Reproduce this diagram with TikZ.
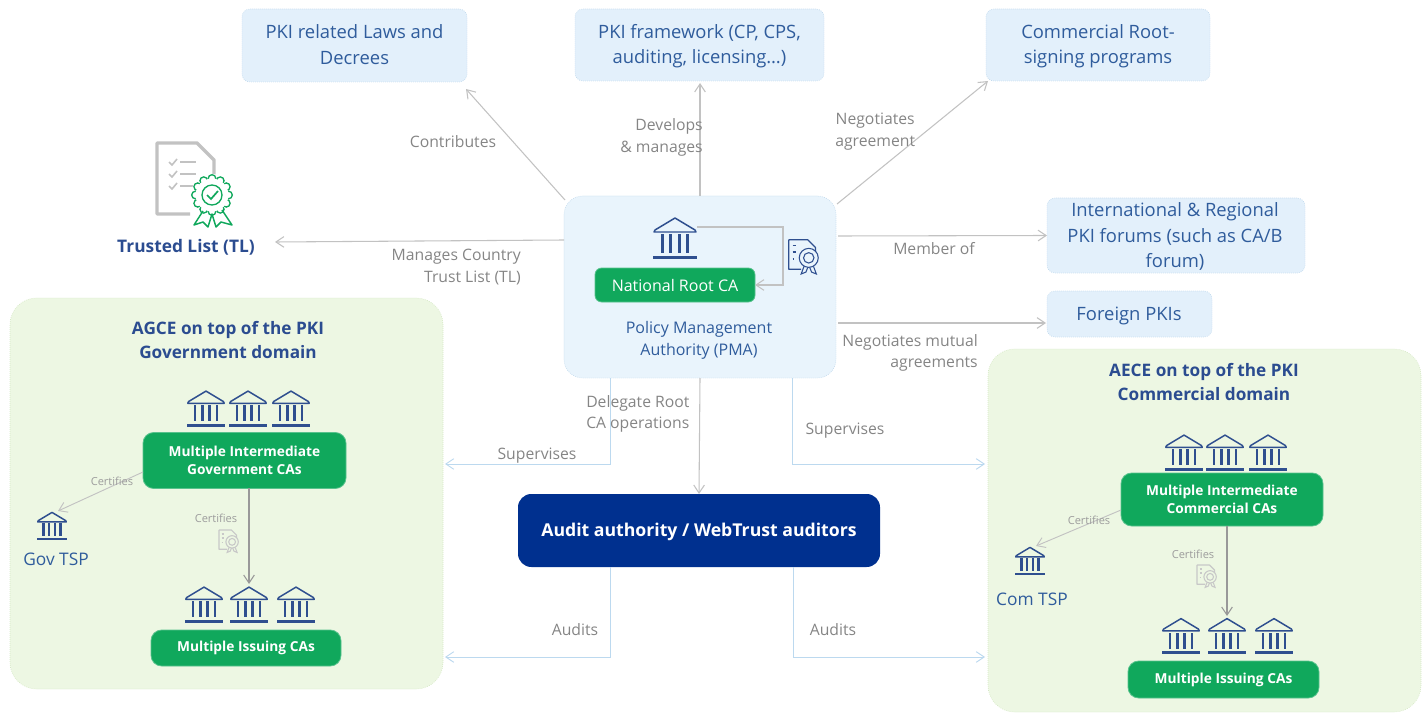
\documentclass[tikz,border=0pt]{standalone}
\usepackage{fontspec}
\setmainfont{Open Sans}
\usetikzlibrary{arrows.meta}
\definecolor{boxfill}{HTML}{E3F0FB}
\definecolor{pmafill}{HTML}{E9F4FC}
\definecolor{panelfill}{HTML}{EDF7E3}
\definecolor{panelline}{HTML}{D5E8C5}
\definecolor{boxline}{HTML}{BFD8EC}
\definecolor{cagreen}{HTML}{10A85C}
\definecolor{navy}{HTML}{00308F}
\definecolor{inktext}{HTML}{2F5C9C}
\definecolor{headtext}{HTML}{2B4C90}
\definecolor{iconblue}{HTML}{2F4F8F}
\definecolor{greyline}{HTML}{C2C2C2}
\definecolor{blueline}{HTML}{BCD9EF}
\definecolor{labelgrey}{HTML}{858585}
\newcommand{\fs}[2]{\fontsize{#1}{#2}\selectfont}
\tikzset{
  x=0.75pt,y=-0.75pt,
  sz/.style 2 args={minimum width=#1*0.75pt,minimum height=#2*0.75pt,inner sep=0pt,outer sep=0pt},
  lightbox/.style={draw=boxline,densely dotted,line width=0.5pt,fill=boxfill,rounded corners=6pt},
  boxtxt/.style={text=inktext,align=center,font=\fs{13.8}{19},inner sep=0pt},
  panel/.style={draw=panelline,densely dotted,line width=0.5pt,fill=panelfill,rounded corners=20pt},
  greenbox/.style={fill=cagreen,draw=cagreen!70!white,line width=0.6pt,rounded corners=8pt,text=white,align=center,font=\bfseries\fs{10.3}{13.2},inner sep=0pt},
  lab/.style={text=labelgrey,align=center,font=\fs{11.8}{16.2},inner sep=0pt},
  smalllab/.style={text=labelgrey!80!white,font=\fs{8.3}{11},inner sep=0pt},
  head/.style={text=headtext,align=center,font=\bfseries\fs{12.9}{18.6},inner sep=0pt},
  plaintxt/.style={text=inktext,align=center,font=\fs{12}{16},inner sep=0pt},
  grayarrow/.style={draw=greyline,line width=0.8pt,-{Straight Barb[length=6pt,width=8pt]}},
  blueone/.style={draw=blueline,line width=0.7pt,-{Straight Barb[length=6pt,width=8pt]}},
  bank/.pic={
    \draw[iconblue,line width=1.1pt,line join=round,fill=none] (-20,-8) -- (0,-20) -- (20,-8) -- (21,-6) -- (-21,-6) -- cycle;
    \foreach \i in {-12.5,-4.2,4.2,12.5}{\fill[iconblue] (\i-1.5,-4) rectangle (\i+1.5,14.5);}
    \fill[iconblue] (-22,17.5) rectangle (22,21);
  },
  certicon/.pic={
    \draw[pic actions,line width=0.9pt,line join=round] (-3,15) -- (-16,15) -- (-16,-16) -- (4,-16) -- (12,-8) -- (12,-3);
    \foreach \a/\b in {-10/-8,-3/-8,4/-11}{\draw[pic actions,line width=1.1pt] (-12,\a) -- (\b,\a);}
    \draw[pic actions,line width=0.8pt] (5,3) circle (10);
    \draw[pic actions,line width=0.8pt] (5,3) circle (5.5);
    \draw[pic actions,line width=0.8pt] (0,12) -- (-3,20) -- (2,18) -- (4,13) (10,12) -- (13,20) -- (8,18) -- (6,13);
  }
}
\begin{document}
\begin{tikzpicture}
\useasboundingbox (0,0) rectangle (1428,713);
% panels
\node[panel,sz={433}{391}] (agce) at (226.5,493.5) {};
\node[panel,sz={433}{363}] (aece) at (1204.5,530.5) {};
% top boxes
\node[lightbox,sz={225}{73}] (laws) at (354.5,45.5) {};
\node[boxtxt] (lawst) at (354.5,44.5) {PKI related Laws and\\Decrees};
\node[lightbox,sz={249}{72}] (frame) at (699.5,45) {};
\node[boxtxt] (framet) at (699.5,46) {PKI framework (CP, CPS,\\auditing, licensing…)};
\node[lightbox,sz={224}{72}] (root) at (1098,45) {};
\node[boxtxt] (roott) at (1098,46) {Commercial Root-\\signing programs};
\node[lightbox,sz={258}{75}] (forums) at (1176,235.5) {};
\node[boxtxt] (forumst) at (1175,236.5) {International \& Regional\\PKI forums (such as CA/B\\forum)};
\node[lightbox,sz={165}{46}] (foreign) at (1129.5,314) {};
\node[boxtxt] (foreignt) at (1129,315.5) {Foreign PKIs};
% PMA
\node[lightbox,fill=pmafill,sz={272}{182},rounded corners=14pt] (pma) at (700,287) {};
\node[greenbox,sz={160}{34},rounded corners=5pt,font=\fs{12}{16}] (nroot) at (675,285) {National Root CA};
\node[text=inktext,align=center,font=\fs{12}{16.4},inner sep=0pt] (pmatxt) at (699,340) {Policy Management\\Authority (PMA)};
\pic (nbank) at (675,238) {bank};
\coordinate (selfout) at (697,227);
\draw[grayarrow] (selfout) -| (783,285) -- (nroot.east);
\pic[draw=iconblue,scale=0.95] (ncert) at (804,255) {certicon};
% Audit
\node[fill=navy,rounded corners=10pt,sz={362}{73}] (audit) at (699,530.5) {};
\node[text=white,font=\bfseries\fs{13.25}{17},inner sep=0pt] (auditt) at (699,532) {Audit authority / WebTrust auditors};
% Trusted list
\draw[greyline,line width=2.6pt,line join=round] (190,214) -- (157,214) -- (157,143) -- (197,143) -- (214,160) -- (214,178);
\foreach \yy in {163,175,187}{
  \draw[greyline,line width=1.2pt] (169,\yy-1) -- (172,\yy+2) -- (177,\yy-4);
  \draw[greyline,line width=1.2pt] (180,\yy-1) -- (196,\yy-1);
}
\fill[white] (212,195) circle (21);
\foreach \a in {0,30,...,330}{\draw[cagreen,line width=1pt,fill=white] (212,195)++(\a:16.5) circle (3.8);}
\fill[white] (212,195) circle (16.5);
\draw[cagreen,line width=1pt] (212,195) circle (10);
\draw[cagreen,line width=1.3pt] (207,195) -- (211,199) -- (218,191);
\draw[cagreen,line width=1.1pt,line join=round] (203,211) -- (194,225) -- (203,222) -- (208,227) -- (212,214) -- (216,227) -- (221,222) -- (232,225) -- (222,210);
\node[head,font=\bfseries\fs{13}{18}] (tl) at (186,247) {Trusted List (TL)};
% Connectors from PMA
\coordinate (pmaA) at (565,200);
\coordinate (pmaB) at (837,204);
\coordinate (pmaC) at (838,236);
\coordinate (pmaD) at (838,323);
\coordinate (pmaE) at (564,240);
\coordinate (lawsEnd) at (466,89);
\coordinate (rootEnd) at (988,81);
\coordinate (tlEnd) at (275,242);
\coordinate (foreignEnd) at (1046,323);
\coordinate (frameEnd) at (700,83);
\draw[grayarrow] (pmaA) -- (lawsEnd);
\draw[grayarrow] (pma.north) -- (frameEnd);
\draw[grayarrow] (pmaB) -- (rootEnd);
\draw[grayarrow] (pmaC) -- (forums.west);
\draw[grayarrow] (pmaD) -- (foreignEnd);
\draw[grayarrow] (pmaE) -- (tlEnd);
\draw[grayarrow] (pma.south) -- (audit.north);
\coordinate (supL) at (610,378);
\coordinate (supR) at (792,378);
\coordinate (audL) at (610,567);
\coordinate (audR) at (793,567);
\coordinate (agceS) at (445,464);
\coordinate (aeceS) at (985,464);
\coordinate (agceA) at (445,657);
\coordinate (aeceA) at (985,657);
\draw[blueone] (supL) |- (agceS);
\draw[blueone] (supR) |- (aeceS);
\draw[blueone] (audL) |- (agceA);
\draw[blueone] (audR) |- (aeceA);
% Labels
\node[lab] (l1) at (453,142) {Contributes};
\node[lab,align=right,anchor=east] (l2) at (703,137.5) {Develops\\\& manages};
\node[lab,align=center,anchor=west] (l3) at (835,131.5) {Negotiates\\agreement};
\node[lab] (l4) at (934,249) {Member of};
\node[lab,align=right,anchor=east] (l5) at (521,267) {Manages Country\\Trust List (TL)};
\node[lab,align=right,anchor=east] (l6) at (978,353) {Negotiates mutual\\agreements};
\node[lab,align=left,anchor=west] (l7) at (586,414) {Delegate Root\\CA operations};
\node[lab] (l8) at (537,455.5) {Supervises};
\node[lab] (l9) at (845,430.5) {Supervises};
\node[lab] (l10) at (575,630) {Audits};
\node[lab] (l11) at (833,630) {Audits};
% Gov domain
\node[head] (agcet) at (228,340) {AGCE on top of the PKI\\Government domain};
\node[greenbox,sz={203}{56}] (gi) at (244.5,460.5) {Multiple Intermediate\\Government CAs};
\node[greenbox,sz={190}{36}] (gs) at (246,648) {Multiple Issuing CAs};
\foreach \cx in {206,248,291}{\pic[scale=0.87] at (\cx,408.5) {bank};}
\foreach \cx in {204,249,296}{\pic[scale=0.87] at (\cx,604.5) {bank};}
\pic[scale=0.68] at (52,526) {bank};
\node[plaintxt,font=\fs{13}{17}] (gtsp) at (56,559) {Gov TSP};
\coordinate (gtspTop) at (58,511);
\coordinate (giW) at (143,472);
\coordinate (giS) at (249,488);
\coordinate (gsTop) at (249,584);
\draw[grayarrow,line width=0.7pt] (giW) -- (gtspTop);
\draw[grayarrow,draw=gray!80!white] (giS) -- (gsTop);
\node[smalllab] (c1) at (112,481) {Certifies};
\node[smalllab] (c2) at (216,518) {Certifies};
\pic[draw=labelgrey!45!white,scale=0.62] at (229,540) {certicon};
% Commercial domain
\node[head] (aecet) at (1204,382) {AECE on top of the PKI\\Commercial domain};
\node[greenbox,sz={202}{53}] (ci) at (1222,499.5) {Multiple Intermediate\\Commercial CAs};
\node[greenbox,sz={191}{37}] (cs) at (1223.5,679.5) {Multiple Issuing CAs};
\foreach \cx in {1184,1225,1268}{\pic[scale=0.87] at (\cx,452.5) {bank};}
\foreach \cx in {1181,1227,1274}{\pic[scale=0.87] at (\cx,636) {bank};}
\pic[scale=0.68] at (1030,561) {bank};
\node[plaintxt,font=\fs{13}{17}] (ctsp) at (1032,599) {Com TSP};
\coordinate (ctspTop) at (1036,546);
\coordinate (ciW) at (1121,510);
\coordinate (ciS) at (1227,526);
\coordinate (csTop) at (1227,616);
\draw[grayarrow,line width=0.7pt] (ciW) -- (ctspTop);
\draw[grayarrow,draw=gray!80!white] (ciS) -- (csTop);
\node[smalllab] (c3) at (1089,520) {Certifies};
\node[smalllab] (c4) at (1193,554) {Certifies};
\pic[draw=labelgrey!45!white,scale=0.62] at (1207,575) {certicon};
\end{tikzpicture}
\end{document}
